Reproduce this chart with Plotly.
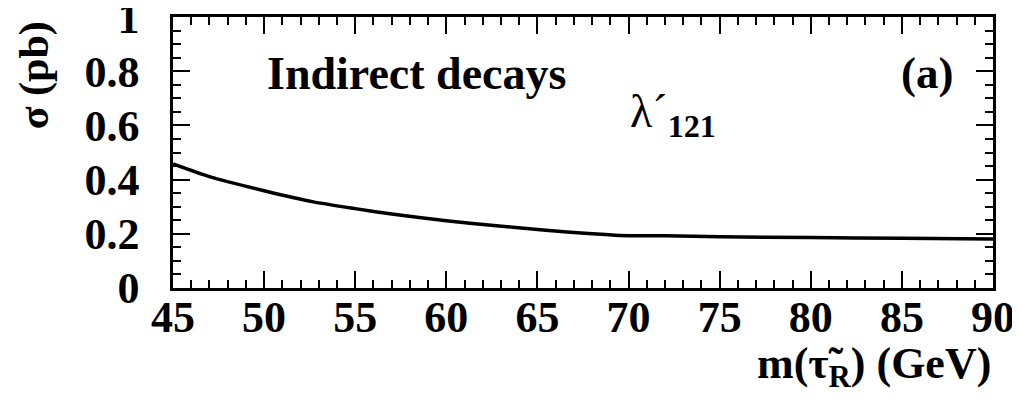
import plotly.graph_objects as go

# data
mass = [45, 47, 50, 52.7, 55, 57, 60, 62.6, 65.3, 68, 69.5, 72, 75, 80, 85, 90]
sigma = [0.458, 0.411, 0.359, 0.318, 0.293, 0.273, 0.248, 0.231, 0.214, 0.200, 0.194, 0.193, 0.189, 0.186, 0.184, 0.181]
x_ticks = [45, 50, 55, 60, 65, 70, 75, 80, 85, 90]
y_ticks = [0, 0.2, 0.4, 0.6, 0.8, 1]
y_tick_text = ["<b>0</b>", "<b>0.2</b>", "<b>0.4</b>", "<b>0.6</b>", "<b>0.8</b>", "<b>1</b>"]
x_tick_text = ["<b>%d</b>" % v for v in x_ticks]

FONT = "Liberation Serif"

fig = go.Figure()
fig.add_trace(go.Scatter(x=mass, y=sigma, mode="lines",
                         line=dict(color="black", width=3.5, shape="spline", smoothing=0.6),
                         showlegend=False, hoverinfo="skip"))

axis_common = dict(
    showgrid=False, zeroline=False, showline=True, linecolor="black", linewidth=2.5,
    mirror="ticks", ticks="inside", ticklen=17, tickwidth=2, tickcolor="black",
    automargin=False, ticklabeloverflow="allow",
    tickfont=dict(family=FONT, size=44, color="black"),
)

# the page body has an 8px margin, so the figure is 8px smaller than the window
fig.update_layout(
    width=1012, height=393,
    margin=dict(l=165, r=27, t=9, b=113),
    paper_bgcolor="white", plot_bgcolor="white",
    font=dict(family=FONT),
    xaxis=dict(range=[45, 90], tickvals=x_ticks, ticktext=x_tick_text, ticklabelstandoff=-12,
               minor=dict(dtick=1, ticks="inside", ticklen=8, tickwidth=2, tickcolor="black"),
               **axis_common),
    yaxis=dict(range=[0, 1.0005], tickvals=y_ticks, ticktext=y_tick_text, ticklabelstandoff=22,
               minor=dict(dtick=0.05, ticks="inside", ticklen=8, tickwidth=2, tickcolor="black"),
               **axis_common),
)

fig.add_annotation(text="<b>Indirect decays</b>", xref="paper", yref="paper", x=0.112, y=0.793,
                   xanchor="left", yanchor="middle", showarrow=False,
                   font=dict(family=FONT, size=46, color="black"))
fig.add_annotation(text="<b>(a)</b>", xref="paper", yref="paper", x=0.954, y=0.793,
                   xanchor="right", yanchor="middle", showarrow=False,
                   font=dict(family=FONT, size=45, color="black"))
fig.add_annotation(text="λ´<sub><b>121</b></sub>", xref="paper", yref="paper", x=0.555, y=0.64,
                   xanchor="left", yanchor="middle", showarrow=False,
                   font=dict(family=FONT, size=46, color="black"))
fig.add_annotation(text="<b>σ (pb)</b>", xref="paper", yref="paper", x=-0.168, y=0.786,
                   xanchor="center", yanchor="middle", textangle=-90, showarrow=False,
                   font=dict(family=FONT, size=42, color="black"))
fig.add_annotation(text="<b>m(τ̃<sub>R</sub>) (GeV)</b>", xref="paper", yref="paper", x=1.0, y=-0.29,
                   xanchor="right", yanchor="middle", showarrow=False,
                   font=dict(family=FONT, size=44, color="black"))

fig.write_html("out.html")
